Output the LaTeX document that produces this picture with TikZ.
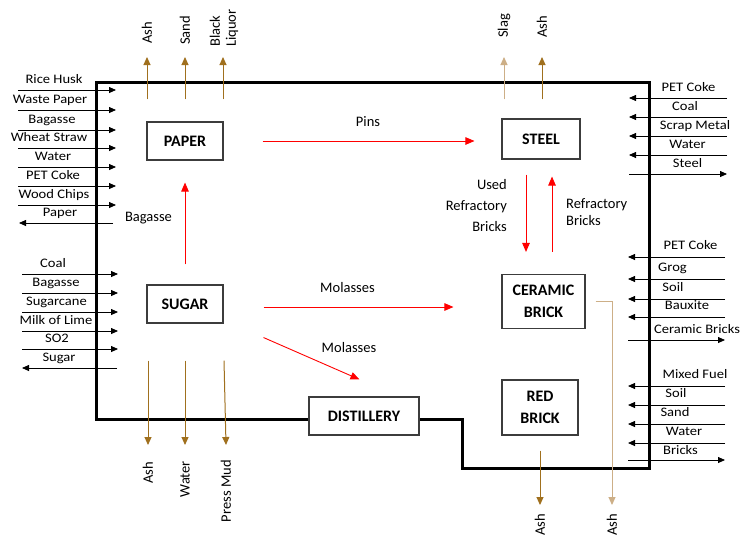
\documentclass[tikz,border=0pt]{standalone}
\usepackage{fontspec}
\setmainfont{Carlito}
\newfontfamily\sidefont{Carlito}[FakeStretch=1.12]
\usetikzlibrary{arrows.meta}
\definecolor{brownA}{RGB}{160,112,30}
\definecolor{tanA}{RGB}{205,175,135}
\definecolor{boxgray}{RGB}{60,60,60}
\begin{document}
\begin{tikzpicture}[x=1pt,y=-1pt,
  box/.style={draw=boxgray, line width=1.1pt, fill=white, inner sep=0pt, align=center,
    font=\bfseries\fontsize{16}{22}\selectfont},
  side/.style={inner sep=0pt, font=\sidefont\fontsize{13}{15}\selectfont},
  mid/.style={inner sep=0pt, font=\fontsize{14.5}{21}\selectfont},
  rot/.style={inner sep=0pt, rotate=90, font=\fontsize{14.5}{17}\selectfont},
  inflow/.style={line width=0.8pt, -{Triangle[length=7pt,width=6pt]}},
  redflow/.style={red, line width=0.9pt, -{Triangle[length=9pt,width=7.5pt]}},
  outflow/.style={line width=1pt, -{Triangle[length=8pt,width=7pt]}},
  wall/.style={line width=3pt, line join=miter}]
\useasboundingbox (0,0) rectangle (743,539);
\fill[white] (0,0) rectangle (743,539);

% thick boundary
\draw[wall] (309,419) -- (96,419) -- (96,82) -- (649,82) -- (649,468) -- (462,468) -- (462,419) -- (419,419);

% process boxes
\node[box, minimum width=76pt, minimum height=38pt] (paper) at (185,141) {PAPER};
\node[box, minimum width=76pt, minimum height=38pt] (sugar) at (185,304) {SUGAR};
\node[box, minimum width=78pt, minimum height=40pt] (steel) at (541,139) {STEEL};
\node[box, minimum width=83pt, minimum height=54pt] (ceramic) at (543.5,301.5) {CERAMIC\\BRICK};
\node[box, minimum width=76pt, minimum height=55pt] (redbrick) at (540,407.5) {RED\\BRICK};
\node[box, minimum width=110pt, minimum height=38pt] (distillery) at (364,416) {DISTILLERY};

% red internal flows
\draw[redflow] ([xshift=39pt]paper.east) -- ([xshift=-27pt]steel.west |- paper.east);
\node[mid] (pins) at (368,122) {Pins};
\draw[redflow] ([yshift=20pt]sugar.north) -- ([yshift=-22pt]paper.south);
\node[mid] (bagasseL) at (148.5,218) {Bagasse};
\draw[redflow] ([shift={(40,3)}]sugar.east) -- ([shift={(-48,5.5)}]ceramic.west);
\node[mid] (mol1) at (347.5,288) {Molasses};
\draw[redflow] ([shift={(40,14)}]sugar.south east) -- ([shift={(51,-17)}]distillery.north west);
\node[mid] (mol2) at (349,348) {Molasses};
\draw[redflow] ([shift={(-15,15)}]steel.south) -- ([shift={(-17.5,-22)}]ceramic.north);
\draw[redflow] ([shift={(8.5,-22)}]ceramic.north) -- ([shift={(11,17)}]steel.south);
\node[mid, align=right, anchor=east] (usedref) at (507,206) {Used\\Refractory\\Bricks};
\node[mid, align=left, anchor=west, font=\fontsize{14.5}{17}\selectfont] (refbr) at (566,212) {Refractory\\Bricks};

% left inputs: paper
\foreach \i/\yy/\lx/\t in {1/90/54/Rice Husk, 2/110/50/Waste Paper, 3/130/52/Bagasse,
    4/148/49/Wheat Straw, 5/167/53/Water, 6/186/53/PET Coke, 7/205/54/Wood Chips} {
  \coordinate (pa\i) at (18,\yy);
  \coordinate (pb\i) at (116,\yy);
  \draw[inflow] (pa\i) -- (pb\i);
  \node[side, anchor=base] (pl\i) at (\lx,\yy-7) {\t};
}
\coordinate (pa8) at (113,223);
\coordinate (pb8) at (19,223);
\draw[inflow] (pa8) -- (pb8);
\node[side, anchor=base] (pl8) at (60,216) {Paper};

% left inputs: sugar
\foreach \i/\yy/\lx/\t in {1/274/53/Coal, 2/293/56/Bagasse, 3/312/56.5/Sugarcane,
    4/331/56/Milk of Lime, 5/349/57/SO2} {
  \coordinate (sa\i) at (22,\yy);
  \coordinate (sb\i) at (118,\yy);
  \draw[inflow] (sa\i) -- (sb\i);
  \node[side, anchor=base] (sl\i) at (\lx,\yy-7) {\t};
}
\coordinate (sa6) at (117,368);
\coordinate (sb6) at (22,368);
\draw[inflow] (sa6) -- (sb6);
\node[side, anchor=base] (sl6) at (59,361) {Sugar};

% right inputs: steel
\foreach \i/\yy/\lx/\t in {1/98/688.5/PET Coke, 2/117/685/Coal, 3/136/695/Scrap Metal, 4/155/687.5/Water} {
  \coordinate (ta\i) at (727,\yy);
  \coordinate (tb\i) at (629,\yy);
  \draw[inflow] (ta\i) -- (tb\i);
  \node[side, anchor=base] (tl\i) at (\lx,\yy-7) {\t};
}
\coordinate (ta5) at (629,174);
\coordinate (tb5) at (727,174);
\draw[inflow] (ta5) -- (tb5);
\node[side, anchor=base] (tl5) at (687.5,167) {Steel};

% right inputs: ceramic brick
\foreach \i/\yy/\lx/\t in {1/257/690.5/PET Coke, 2/279/672.5/Grog, 3/299/673/Soil, 4/317/687/Bauxite} {
  \coordinate (ca\i) at (725,\yy);
  \coordinate (cb\i) at (628,\yy);
  \draw[inflow] (ca\i) -- (cb\i);
  \node[side, anchor=base] (cl\i) at (\lx,\yy-8) {\t};
}
\coordinate (ca5) at (628,340);
\coordinate (cb5) at (725,340);
\draw[inflow] (ca5) -- (cb5);
\node[side, anchor=base] (cl5) at (697,333) {Ceramic Bricks};

% right inputs: red brick
\foreach \i/\yy/\lx/\t in {1/386/695/Mixed Fuel, 2/405/676/Soil, 3/424/675/Sand, 4/443/684/Water} {
  \coordinate (ra\i) at (725,\yy);
  \coordinate (rb\i) at (628,\yy);
  \draw[inflow] (ra\i) -- (rb\i);
  \node[side, anchor=base] (rl\i) at (\lx,\yy-8) {\t};
}
\coordinate (ra5) at (628,460);
\coordinate (rb5) at (725,460);
\draw[inflow] (ra5) -- (rb5);
\node[side, anchor=base] (rl5) at (680.5,454) {Bricks};

% top outputs (paper)
\node[rot, anchor=west] (pash) at (147,44) {Ash};
\node[rot, anchor=west] (psand) at (185,45) {Sand};
\node[rot, anchor=west, align=left, font=\fontsize{14.5}{16}\selectfont] (pliq) at (224,47) {Black\\Liquor};
\draw[outflow, brownA] ([shift={(-38,-22)}]paper.north) -- ([yshift=-13pt]pash.west);
\draw[outflow, brownA] ([shift={(0,-22)}]paper.north) -- ([yshift=-12pt]psand.west);
\draw[outflow, brownA] ([shift={(38,-22)}]paper.north) -- ([shift={(-1pt,-10pt)}]pliq.west);

% top outputs (steel)
\node[rot, anchor=west] (sslag) at (504,38) {Slag};
\node[rot, anchor=west] (sash) at (542,38) {Ash};
\draw[outflow, tanA] ([shift={(-37,-19)}]steel.north) -- ([yshift=-19pt]sslag.west);
\draw[outflow, brownA] ([shift={(1,-19)}]steel.north) -- ([yshift=-19pt]sash.west);

% bottom outputs (sugar)
\node[rot, anchor=east] (bash) at (148,462) {Ash};
\node[rot, anchor=east] (bwater) at (185,461) {Water};
\node[rot, anchor=east] (bmud) at (226,460) {Press Mud};
\draw[outflow, brownA] ([shift={(-37,37)}]sugar.south) -- ([yshift=17pt]bash.east);
\draw[outflow, brownA] ([shift={(0,37)}]sugar.south) -- ([yshift=16pt]bwater.east);
\draw[outflow, brownA] ([shift={(39,37)}]sugar.south) -- ([yshift=15pt]bmud.east);

% bottom outputs (bricks)
\node[rot, anchor=east] (rash) at (540,514) {Ash};
\node[rot, anchor=east] (cash) at (612,514) {Ash};
\draw[outflow, brownA] ([yshift=-15pt]redbrick.south) -- ([yshift=9pt]rash.east);
\draw[outflow, tanA] ([xshift=10pt]ceramic.east) -| ([yshift=9pt]cash.east);
\end{tikzpicture}
\end{document}
